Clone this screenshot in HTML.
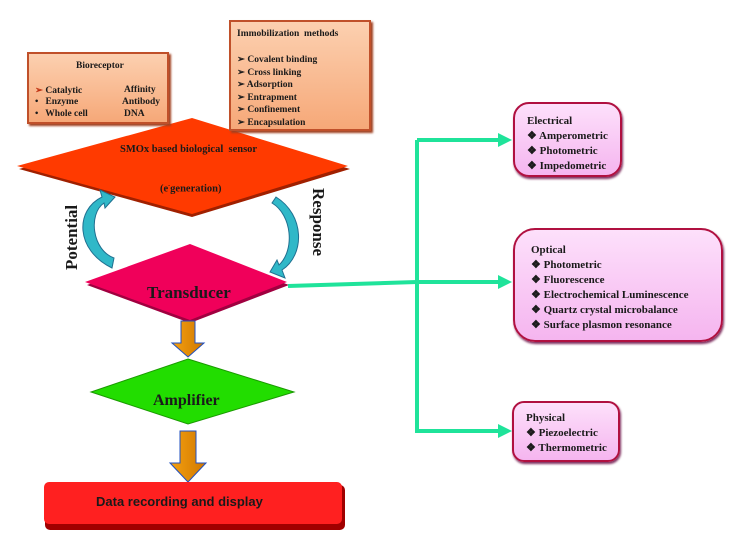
<!DOCTYPE html>
<html><head><style>
body{margin:0;width:739px;height:541px;background:#fff;overflow:hidden;position:relative;font-family:"Liberation Serif",serif;font-weight:bold;color:#1a1a1a}
.box{position:absolute;background:linear-gradient(#fcd0b0,#f6a878);border:2px solid #c0502a;box-shadow:2px 2px 2px #a04020;font-size:9.5px}
.pk{position:absolute;background:linear-gradient(#fde0fb,#f5b5ef);border:2px solid #b01040;border-radius:16px;font-size:11px;line-height:15px;box-shadow:1px 2px 2px #803060}
.t{position:absolute;white-space:nowrap}
</style></head><body>
<svg width="739" height="541" style="position:absolute;left:0;top:0">
<defs>
<linearGradient id="og" x1="0" x2="1"><stop offset="0" stop-color="#f5a010"/><stop offset="1" stop-color="#d07800"/></linearGradient>
</defs>
<polygon points="192,121 350,169 192,217 19,169" fill="#a02000"/>
<polygon points="192,118 348,166 192,214 17,166" fill="#ff3a00"/>
<polygon points="190,247 289,285 190,323 87,285" fill="#a00040"/>
<polygon points="190,244 287,282 190,320 85,282" fill="#f0005a"/>
<polygon points="188,359 294,392 188,424 91,392" fill="#22dd00" stroke="#1a9a00"/>
<g stroke="#2050c0" stroke-width="1" fill="url(#og)">
<path d="M181,321h14v22h9l-16,14l-16,-14h9z"/>
<path d="M180,431h16v32h10l-18,19l-18,-19h10z"/>
</g>
<rect x="45" y="485" width="300" height="45" rx="5" fill="#a00000"/>
<rect x="44" y="482" width="298" height="42" rx="5" fill="#ff2020"/>
<g stroke="#1fe39a" stroke-width="4" fill="none">
<path d="M288,286L417,282"/>
<path d="M417,140V433"/>
<path d="M417,140H500"/>
<path d="M417,282H500"/>
<path d="M417,431H500"/>
</g>
<g fill="#1fe39a">
<path d="M498,133L512,140L498,147z"/>
<path d="M498,275L512,282L498,289z"/>
<path d="M498,424L512,431L498,438z"/>
</g>
<g fill="#30b8c8" stroke="#207090" stroke-width="1">
<path d="M112,268 C75,250 75,210 102,197 L100,190 L115,197 L105,208 L104,203 C88,214 92,250 114,258z"/>
<path d="M276,197 C305,215 305,255 282,270 L285,278 L270,272 L277,260 L279,265 C295,250 292,215 272,203z"/>
</g>
</svg>
<div class="box" style="left:27px;top:52px;width:138px;height:68px">
<div class="t" style="left:47px;top:7px">Bioreceptor</div>
<div class="t" style="left:6px;top:31px"><span style="color:#c03010">➢</span> Catalytic</div>
<div class="t" style="left:6px;top:43px">•&nbsp;&nbsp; Enzyme</div>
<div class="t" style="left:6px;top:55px">•&nbsp;&nbsp; Whole cell</div>
<div class="t" style="left:95px;top:31px">Affinity</div>
<div class="t" style="left:93px;top:43px">Antibody</div>
<div class="t" style="left:95px;top:55px">DNA</div>
</div>
<div class="box" style="left:229px;top:20px;width:138px;height:107px">
<div class="t" style="left:6px;top:7px">Immobilization&nbsp; methods</div>
<div class="t" style="left:6px;top:32px;line-height:12.6px">➢ Covalent binding<br>➢ Cross linking<br>➢ Adsorption<br>➢ Entrapment<br>➢ Confinement<br>➢ Encapsulation</div>
</div>
<div class="t" style="left:120px;top:144px;font-size:10.5px">SMOx based biological&nbsp; sensor</div>
<div class="t" style="left:160px;top:183px;font-size:10.5px">(e<sup style="font-size:6px">-</sup>generation)</div>
<div class="t" style="font-size:17px;transform:rotate(-90deg);transform-origin:0 0;top:270px;left:62px">Potential</div>
<div class="t" style="left:328px;top:188px;font-size:17px;transform:rotate(90deg);transform-origin:0 0">Response</div>
<div class="t" style="left:147px;top:283px;font-size:17px">Transducer</div>
<div class="t" style="left:153px;top:392px;font-size:16px">Amplifier</div>
<div class="t" style="left:96px;top:494px;font-size:13px;font-family:'Liberation Sans',sans-serif">Data recording and display</div>
<div class="pk" style="left:513px;top:102px;width:105px;height:71px"><div style="padding:10px 0 0 12px">Electrical<br>❖ Amperometric<br>❖ Photometric<br>❖ Impedometric</div></div>
<div class="pk" style="left:513px;top:228px;width:206px;height:110px;border-radius:22px"><div style="padding:13px 0 0 16px">Optical<br>❖ Photometric<br>❖ Fluorescence<br>❖ Electrochemical Luminescence<br>❖ Quartz crystal microbalance<br>❖ Surface plasmon resonance</div></div>
<div class="pk" style="left:512px;top:401px;width:104px;height:57px;border-radius:12px"><div style="padding:8px 0 0 12px">Physical<br>❖ Piezoelectric<br>❖ Thermometric</div></div>
</body></html>
